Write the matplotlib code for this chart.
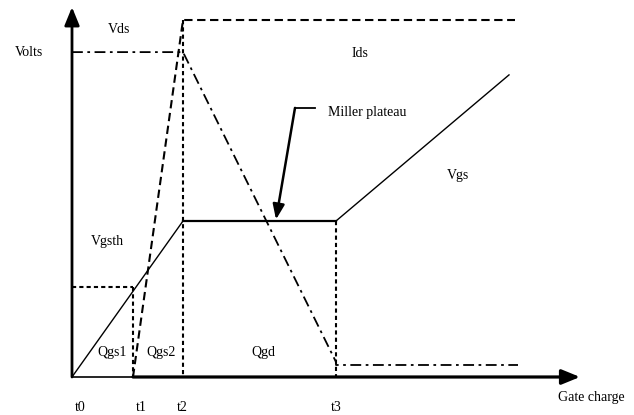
import matplotlib
matplotlib.use("Agg")
import matplotlib.pyplot as plt

# ---- data (charge units on x, volts on y) ----
t_labels = ["t0", "t1", "t2", "t3"]
t_vals = [0.0, 1.22, 2.22, 5.28]
t0, t1, t2, t3 = t_vals

vgs_th = 3.0
vgs_plateau = 5.2
vgs_end = (8.74, 10.07)

vgs_x = [t0, t2, t3, vgs_end[0]]
vgs_y = [0.0, vgs_plateau, vgs_plateau, vgs_end[1]]

vds_x = [t0, t2, t3, t3, 8.92]
vds_y = [10.83, 10.83, 0.5, 0.4, 0.4]

ids_x = [t1, t2, 8.86]
ids_y = [0.0, 11.9, 11.9]

seg_labels = ["Qgs1", "Qgs2", "Qgd"]
seg_x = [0.8, 1.78, 3.82]

fig = plt.figure(figsize=(6.34, 4.15), dpi=100)
ax = fig.add_axes([0, 0, 1, 1])
ax.set_xlim(-1.44, 11.24)
ax.set_ylim(-1.267, 12.567)
ax.axis("off")

font = dict(family="Liberation Serif", fontsize=10, color="black")

# axes with arrows
ax.annotate("", xy=(0, 12.33), xytext=(0, 0),
            arrowprops=dict(arrowstyle="-|>,head_length=1.1,head_width=0.45",
                            lw=2, color="black", shrinkA=0, shrinkB=0))
ax.annotate("", xy=(10.16, 0), xytext=(t1, 0),
            arrowprops=dict(arrowstyle="-|>,head_length=1.1,head_width=0.45",
                            lw=2.3, color="black", shrinkA=0, shrinkB=0))
ax.plot([t0, t1], [0, 0], color="black", lw=1.2)

# Vgs
ax.plot(vgs_x[:2], vgs_y[:2], color="black", lw=1.0)
ax.plot(vgs_x[1:3], vgs_y[1:3], color="black", lw=1.6)
ax.plot(vgs_x[2:], vgs_y[2:], color="black", lw=1.0)

# Vds (dash-dot)
ax.plot(vds_x, vds_y, color="black", lw=1.3, dashes=(6, 2.5, 1.5, 2.5))

# Ids (dashed)
ax.plot(ids_x, ids_y, color="black", lw=1.5, dashes=(4, 2.2))

# dotted guides
dot = dict(color="black", lw=1.5, dashes=(2, 1.5))
ax.plot([t0, t1], [vgs_th, vgs_th], **dot)
ax.plot([t1, t1], [vgs_th, 0], **dot)
ax.plot([t2, t2], [ids_y[1], 0], **dot)
ax.plot([t3, t3], [vgs_plateau, 0], **dot)

# Miller plateau leader + arrow
ax.plot([4.86, 4.46], [8.97, 8.97], color="black", lw=1.3)
ax.annotate("", xy=(4.08, vgs_plateau + 0.05), xytext=(4.46, 8.97),
            arrowprops=dict(arrowstyle="-|>,head_length=0.9,head_width=0.35",
                            lw=1.8, color="black", shrinkA=0, shrinkB=0))

# labels
ax.text(-0.86, 10.83, "Volts", ha="center", va="center", **font)
ax.text(0.94, 11.57, "Vds", ha="center", va="center", **font)
ax.text(5.76, 10.8, "Ids", ha="center", va="center", **font)
ax.text(5.12, 8.83, "Miller plateau", ha="left", va="center", **font)
ax.text(7.72, 6.73, "Vgs", ha="center", va="center", **font)
ax.text(0.7, 4.5, "Vgsth", ha="center", va="center", **font)
for lab, x in zip(seg_labels, seg_x):
    ax.text(x, 0.8, lab, ha="center", va="center", **font)
t_lab_x = [0.16, 1.38, 2.2, 5.28]
for lab, x in zip(t_labels, t_lab_x):
    ax.text(x, -1.03, lab, ha="center", va="center", **font)
ax.text(10.38, -0.67, "Gate charge", ha="center", va="center", **font)

fig.savefig("out.png", dpi=100)
